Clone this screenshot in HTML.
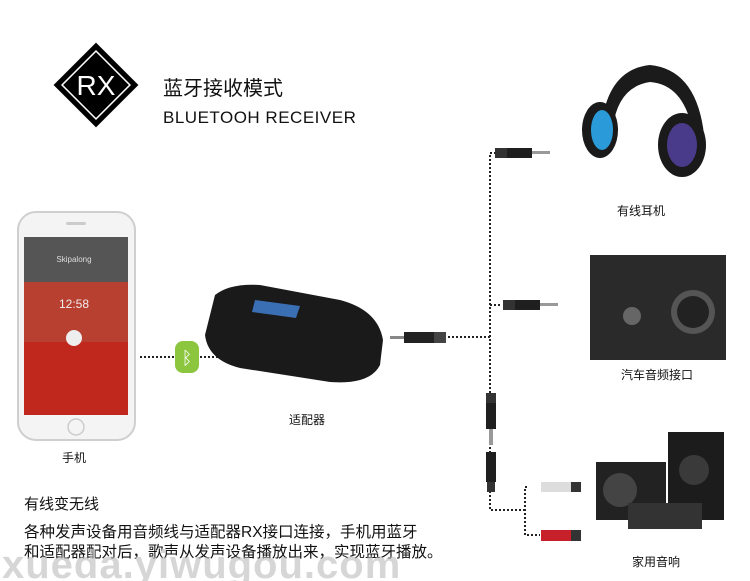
<!DOCTYPE html>
<html><head><meta charset="utf-8"><style>
body{margin:0;background:#fff;}
svg{display:block}
text{font-family:"Liberation Sans","Noto Sans CJK SC",sans-serif;}
</style></head><body>
<svg width="750" height="581" viewBox="0 0 750 581" xmlns="http://www.w3.org/2000/svg">
<rect x="66" y="55" width="60" height="60" transform="rotate(45 96 85)" fill="#000"/>
<rect x="72" y="61" width="48" height="48" transform="rotate(45 96 85)" fill="none" stroke="#fff" stroke-width="1.5"/>
<text x="96" y="95" font-size="28" fill="#fff" text-anchor="middle">RX</text>
<text x="163" y="95" font-size="20" fill="#111">蓝牙接收模式</text>
<text x="163" y="123" font-size="17" fill="#111" letter-spacing="0.5">BLUETOOH RECEIVER</text>
<rect x="18" y="212" width="117" height="228" rx="18" fill="#f4f4f4" stroke="#cfcfcf" stroke-width="2"/>
<rect x="24" y="237" width="104" height="178" fill="#8a2a22"/>
<rect x="24" y="237" width="104" height="45" fill="#555"/>
<rect x="24" y="282" width="104" height="60" fill="#b84030"/>
<rect x="24" y="342" width="104" height="73" fill="#c0281e"/>
<circle cx="74" cy="338" r="8" fill="#eee"/>
<text x="74" y="262" font-size="8" fill="#ddd" text-anchor="middle">Skipalong</text>
<text x="74" y="308" font-size="12" fill="#eee" text-anchor="middle">12:58</text>
<circle cx="76" cy="427" r="8" fill="none" stroke="#ccc" stroke-width="1.5"/>
<rect x="66" y="222" width="20" height="3" rx="1.5" fill="#ccc"/>
<text x="74" y="462" font-size="12" fill="#111" text-anchor="middle">手机</text>
<line x1="140" y1="357" x2="178" y2="357" stroke="#222" stroke-width="2" stroke-dasharray="2,2"/>
<rect x="175" y="341" width="24" height="32" rx="8" fill="#8cc63f"/>
<text x="187" y="364" font-size="18" fill="#fff" text-anchor="middle">ᛒ</text>
<line x1="200" y1="357" x2="240" y2="357" stroke="#222" stroke-width="2" stroke-dasharray="2,2"/>
<path d="M215 295 Q230 283 260 285 L340 300 Q378 310 383 340 L380 365 Q370 385 330 382 L240 368 Q208 360 205 335 Z" fill="#1a1a1a"/>
<path d="M255 300 L300 306 L296 318 L252 312 Z" fill="#3a6fb4"/>
<text x="307" y="424" font-size="12" fill="#111" text-anchor="middle">适配器</text>
<rect x="390" y="336" width="14" height="3" fill="#888"/>
<rect x="404" y="332" width="30" height="11" fill="#222"/>
<rect x="434" y="332" width="12" height="11" fill="#444"/>
<g stroke="#222" stroke-width="2" stroke-dasharray="2,2" fill="none">
<line x1="448" y1="337" x2="490" y2="337"/>
<polyline points="496,153 490,153 490,505 490,510 525,510"/>
<line x1="490" y1="305" x2="502" y2="305"/>
<polyline points="527,487 525,487 525,535 540,535"/>
</g>
<g><rect x="495" y="148" width="12" height="10" fill="#333"/><rect x="507" y="148" width="25" height="10" fill="#1f1f1f"/><rect x="532" y="151" width="18" height="3" fill="#999"/></g>
<g><rect x="503" y="300" width="12" height="10" fill="#333"/><rect x="515" y="300" width="25" height="10" fill="#1f1f1f"/><rect x="540" y="303" width="18" height="3" fill="#999"/></g>
<rect x="486" y="393" width="10" height="10" fill="#333"/><rect x="486" y="403" width="10" height="26" fill="#1f1f1f"/><rect x="489" y="429" width="4" height="16" fill="#999"/>
<rect x="486" y="452" width="10" height="30" fill="#1f1f1f"/><rect x="487" y="482" width="8" height="10" fill="#333"/>
<rect x="541" y="482" width="30" height="10" fill="#ddd"/><rect x="571" y="482" width="10" height="10" fill="#333"/>
<rect x="541" y="530" width="30" height="11" fill="#c8202a"/><rect x="571" y="530" width="10" height="11" fill="#333"/>
<path d="M600 150 Q600 70 650 65 Q700 70 705 145 L695 150 Q690 85 650 82 Q610 88 612 150 Z" fill="#1b1b1b"/>
<ellipse cx="600" cy="130" rx="18" ry="28" fill="#1a1a1a"/><ellipse cx="602" cy="130" rx="11" ry="20" fill="#2a9ad8"/>
<ellipse cx="682" cy="145" rx="24" ry="32" fill="#1a1a1a"/><ellipse cx="682" cy="145" rx="15" ry="22" fill="#4a3a8a"/>
<text x="641" y="215" font-size="12" fill="#111" text-anchor="middle">有线耳机</text>
<rect x="590" y="255" width="136" height="105" fill="#2a2a2a"/>
<circle cx="693" cy="312" r="22" fill="#555"/><circle cx="693" cy="312" r="16" fill="#222"/>
<circle cx="632" cy="316" r="9" fill="#666"/>
<text x="657" y="379" font-size="12" fill="#111" text-anchor="middle">汽车音频接口</text>
<rect x="596" y="462" width="70" height="58" fill="#222"/>
<circle cx="620" cy="490" r="17" fill="#444"/>
<rect x="668" y="432" width="56" height="88" fill="#1c1c1c"/>
<rect x="628" y="503" width="74" height="26" fill="#333"/>
<circle cx="694" cy="470" r="15" fill="#3a3a3a"/>
<text x="656" y="566" font-size="12" fill="#111" text-anchor="middle">家用音响</text>
<text x="24" y="509" font-size="15" fill="#111">有线变无线</text>
<text x="24" y="537" font-size="15.5" fill="#111">各种发声设备用音频线与适配器RX接口连接，手机用蓝牙</text>
<text x="24" y="557" font-size="15.5" fill="#111">和适配器配对后，歌声从发声设备播放出来，实现蓝牙播放。</text>
<text x="2" y="578" font-size="40" font-weight="bold" fill="#bbb" fill-opacity="0.6" letter-spacing="1">xueda.yiwugou.com</text>
</svg>
</body></html>
